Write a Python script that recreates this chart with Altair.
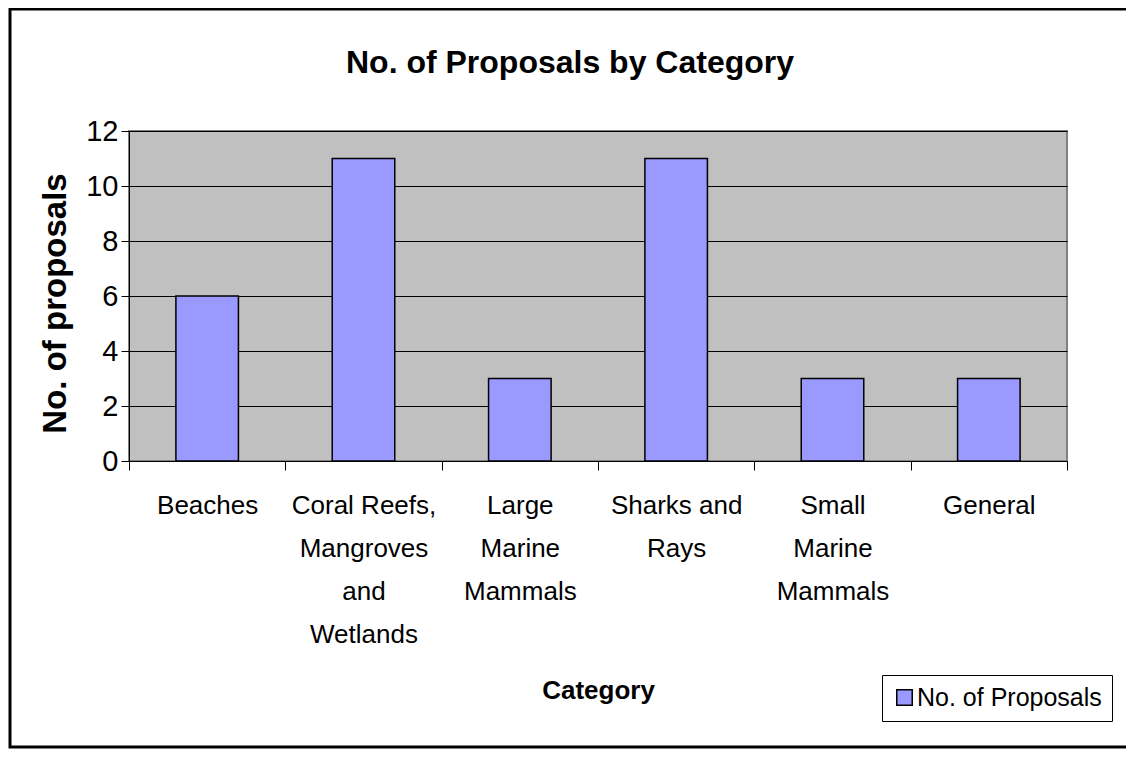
import altair as alt
import pandas as pd

categories = ["Beaches", "Coral Reefs,|Mangroves|and|Wetlands", "Large|Marine|Mammals",
              "Sharks and|Rays", "Small|Marine|Mammals", "General"]
values = [6, 11, 3, 11, 3, 3]
series_name = "No. of Proposals"
chart_title = "No. of Proposals by Category"

df = pd.DataFrame({"category": categories, "value": values, "series": [series_name] * len(values)})
tdf = pd.DataFrame({"t": [chart_title]})

FONT = "Liberation Sans"
W, H = 938, 330

bars = alt.Chart(df).mark_bar(stroke="black", strokeWidth=1.5, width=alt.RelativeBandSize(0.4)).encode(
    x=alt.X("category:N", sort=categories,
            scale=alt.Scale(paddingInner=0, paddingOuter=0),
            axis=alt.Axis(title="Category", labelExpr="split(datum.label, '|')",
                          labelAngle=0, tickBand="extent", tickSize=9, tickColor="black",
                          domainColor="black", labelFontSize=26, labelFont=FONT,
                          labelLineHeight=43, labelPadding=22, labelColor="black",
                          titleFont=FONT, titleFontSize=26, titleFontWeight="bold",
                          titlePadding=30, titleColor="black", grid=False)),
    y=alt.Y("value:Q", scale=alt.Scale(domain=[0, 12]),
            axis=alt.Axis(title="No. of proposals", values=[0, 2, 4, 6, 8, 10, 12],
                          tickSize=8, tickColor="black", domainColor="black",
                          labelFontSize=29, labelFont=FONT, labelColor="black", labelPadding=3,
                          titleFont=FONT, titleFontSize=33, titleFontWeight="bold",
                          titleColor="black", titlePadding=13, titleY=172,
                          grid=True, gridColor="black", gridOpacity=1, gridWidth=1)),
    color=alt.Color("series:N", scale=alt.Scale(range=["#9999FF"]),
                    legend=alt.Legend(title=None, orient="none", legendX=753, legendY=544,
                                      strokeColor="black", fillColor="white", padding=10,
                                      symbolType="square", symbolSize=240,
                                      symbolStrokeColor="black", symbolStrokeWidth=1.5,
                                      labelFont=FONT, labelFontSize=25, labelColor="black",
                                      labelLimit=500, labelOffset=0)),
)

title_text = alt.Chart(tdf).mark_text(font=FONT, fontSize=32, fontWeight="bold", color="black",
                                      align="center", baseline="middle").encode(
    text="t:N", x=alt.value(441), y=alt.value(-68)
)

border = alt.Chart(tdf).mark_rect(fill=None, stroke="black", strokeWidth=3, clip=False).encode(
    x=alt.value(-119), x2=alt.value(1000), y=alt.value(-122), y2=alt.value(616)
)

chart = alt.layer(bars, title_text, border).properties(
    width=W, height=H,
    padding={"left": 121, "top": 123, "right": 59, "bottom": 289},
    autosize=alt.AutoSizeParams(type="none"),
    background="white",
).configure_view(fill="#C0C0C0", stroke="#808080", strokeWidth=2)

chart.save("out.html", embed_options={"renderer": "svg", "actions": False})
